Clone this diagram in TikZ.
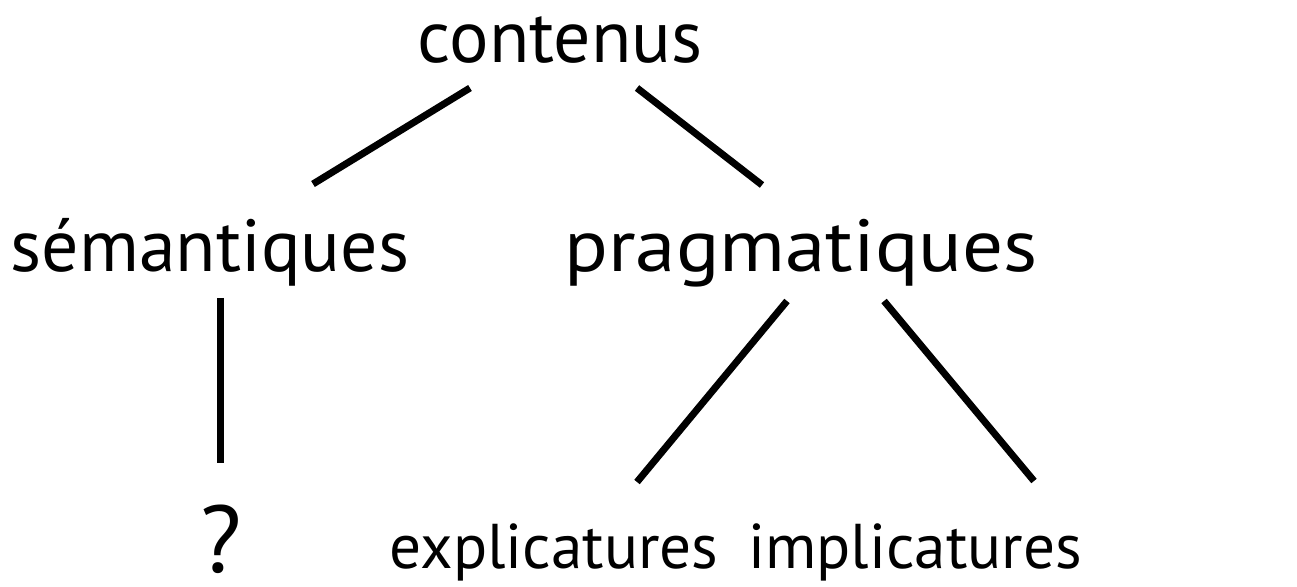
\documentclass[tikz,border=0pt]{standalone}
\usepackage{fontspec}
\setmainfont{PT Sans}
\usepackage{tikz}
\usetikzlibrary{positioning,calc}

\begin{document}
\begin{tikzpicture}[x=0.02cm, y=-0.02cm,
    word/.style={anchor=base, inner sep=0pt, font=\fontsize{42}{50}\selectfont},
    leaf/.style={word, font=\fontsize{36}{44}\selectfont},
    branch/.style={line width=0.14cm}]
    \useasboundingbox (0,0) rectangle (1297,587);

    % Words
    \node[word] (contenus) at (560,63) {contenus};
    \node[word] (sem) at (210,272) {sémantiques};
    \node[word, xscale=1.1] (prag) at (801,272) {pragmatiques};
    \node[word, font=\fontsize{54}{60}\selectfont] (quoi) at (221,572) {?};
    \node[leaf] (expl) at (554,568) {explicatures};
    \node[leaf] (impl) at (915,568) {implicatures};

    % Branches
    \draw[branch] ($(contenus.base)+(-90,25)$) -- ($(sem.base)+(103,-88)$);
    \draw[branch] ($(contenus.base)+(77,25)$) -- ($(prag.base)+(-39,-87)$);
    \draw[branch] ($(sem.base -| quoi.base)+(-1,26)$) -- ($(quoi.base)+(-1,-109)$);
    \draw[branch] ($(prag.base)+(-14,29)$) -- ($(expl.base)+(83,-86)$);
    \draw[branch] ($(prag.base)+(83,29)$) -- ($(impl.base)+(119,-87)$);
\end{tikzpicture}
\end{document}
